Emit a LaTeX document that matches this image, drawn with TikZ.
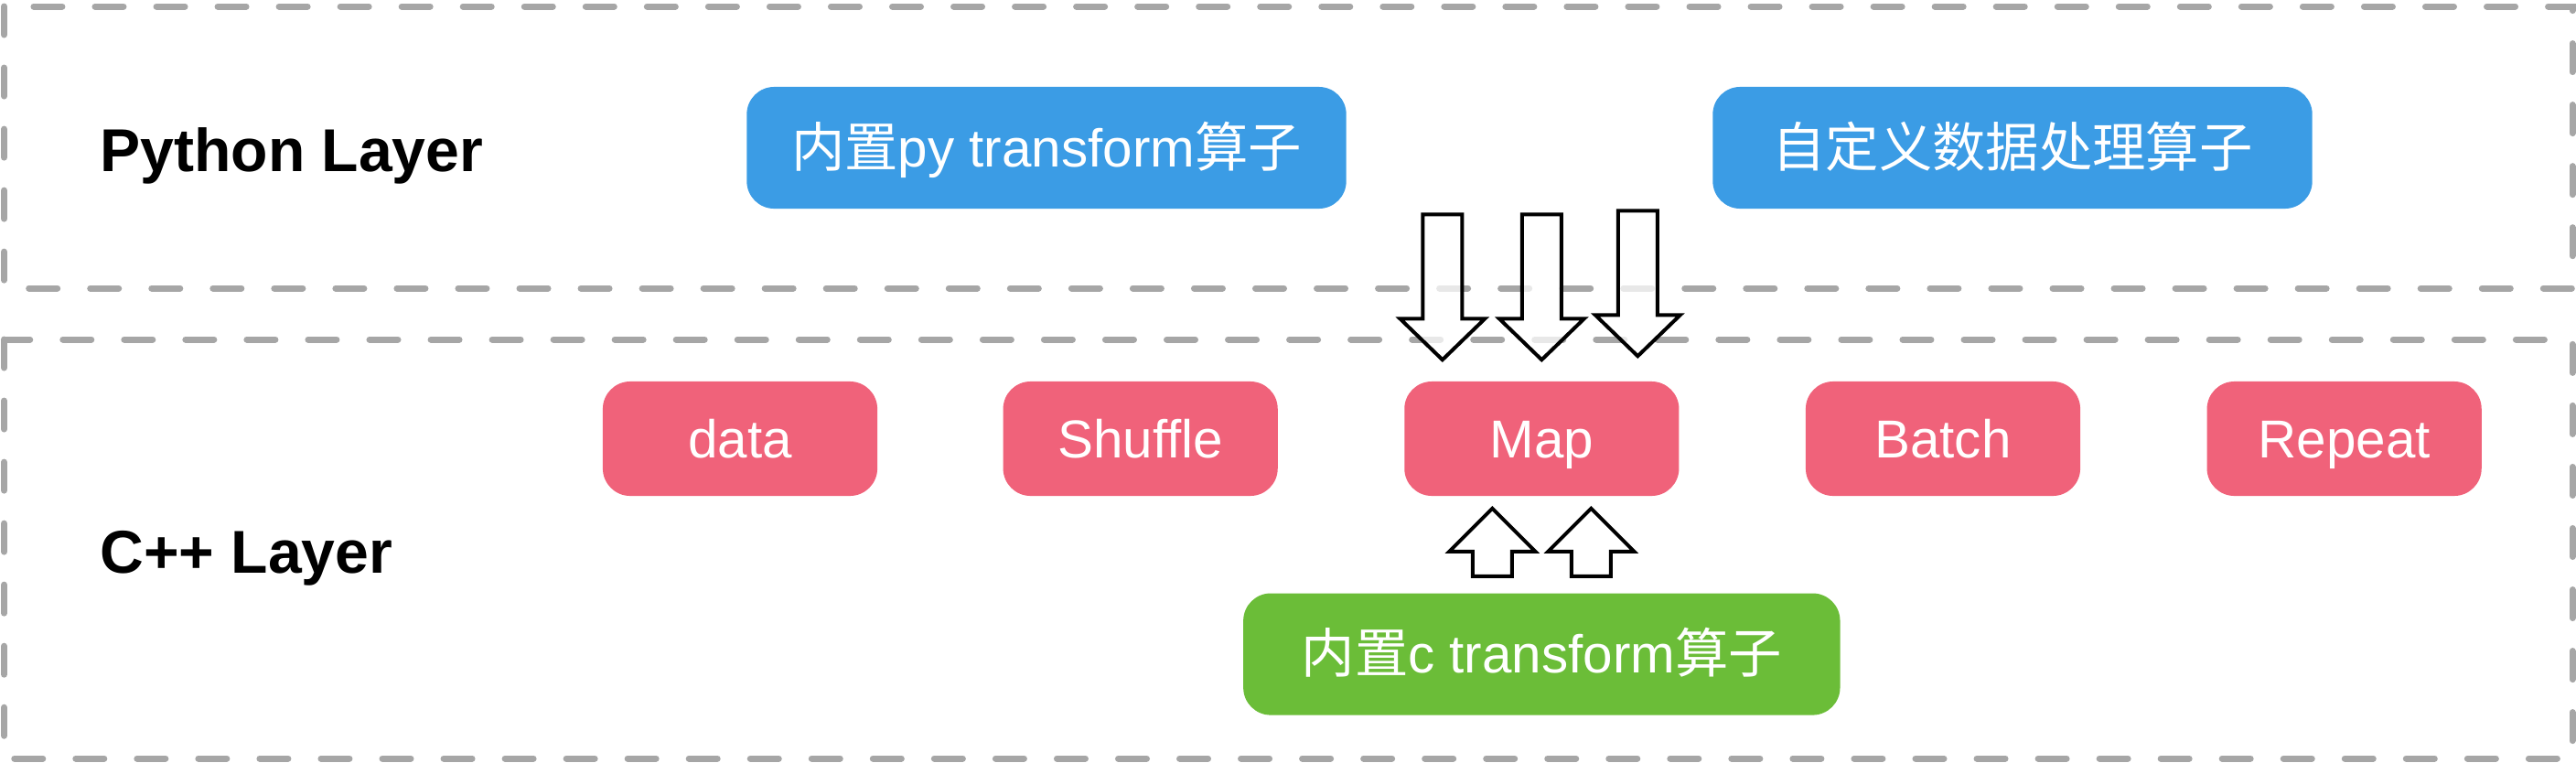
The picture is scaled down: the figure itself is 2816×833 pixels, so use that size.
\documentclass[tikz,border=0pt]{standalone}
\usepackage{fontspec}
\setmainfont{Liberation Sans}
\newfontfamily\cjk{Noto Sans CJK SC}
\usetikzlibrary{positioning,calc}

\definecolor{PyBlue}{RGB}{59,156,229}
\definecolor{OpRed}{RGB}{240,98,122}
\definecolor{COpGreen}{RGB}{107,189,56}

\begin{document}
\begin{tikzpicture}
[
x=0.01cm, y=-0.01cm,
LayerBorder/.style={draw=black!35, line width=0.07cm, line cap=round, dash pattern=on 0.31cm off 0.36cm},
LayerLabel/.style={anchor=base west, font=\fontsize{18.8pt}{22pt}\selectfont\bfseries},
OpBox/.style={rectangle, rounded corners=0.3cm, text=white, inner sep=0pt, text height=15.2pt, text depth=3.3pt, font=\fontsize{16.6pt}{19pt}\selectfont},
PyOp/.style={OpBox, fill=PyBlue, minimum width=6.55cm, minimum height=1.33cm},
CppOp/.style={OpBox, fill=OpRed, minimum width=3cm, minimum height=1.25cm},
COp/.style={OpBox, fill=COpGreen, minimum width=6.52cm, minimum height=1.33cm},
BlockArrow/.style={draw=black, line width=0.04cm, fill=white, fill opacity=0.75},
DownArrow/.pic={\draw[BlockArrow] (-21.5,0)--(21.5,0)--(21.5,114)--(46.5,114)--(0,159)--(-46.5,114)--(-21.5,114)--cycle;},
UpArrow/.pic={\draw[BlockArrow] (0,0)--(47,47)--(21.5,47)--(21.5,74)--(-21.5,74)--(-21.5,47)--(-47,47)--cycle;},
]

\useasboundingbox (0,0) rectangle (2816,833);

% layers
\draw[LayerBorder] (4.5,7) rectangle (2812,315);
\draw[LayerBorder] (4.5,371) rectangle (2812,829);

\node[LayerLabel] (pylabel) at (97,187) {Python Layer};
\node[LayerLabel] (cpplabel) at (97,626) {C++ Layer};

% python ops
\node[PyOp] (pytrans) at (1144,161.5) {{\cjk 内置}py transform{\cjk 算子}};
\node[PyOp] (userop) at (2200,161.5) {\cjk 自定义数据处理算子};

% c++ pipeline
\node[CppOp] (data) at (809,479.5) {data};
\node[CppOp, right=1.36cm of data] (shuffle) {Shuffle};
\node[CppOp, right=1.37cm of shuffle] (map) {Map};
\node[CppOp, right=1.37cm of map] (batch) {Batch};
\node[CppOp, right=1.37cm of batch] (repeat) {Repeat};

\node[COp, below=1.05cm of map] (ctrans) {{\cjk 内置}c transform{\cjk 算子}};

% arrows into Map
\pic at ($(map.north)+(-108.5,-182)$) {DownArrow};
\pic at ($(map.north)+(0,-182)$) {DownArrow};
\pic at ($(map.north)+(105,-186)$) {DownArrow};
\pic at ($(map.south)+(-54,13)$) {UpArrow};
\pic at ($(map.south)+(54,13)$) {UpArrow};

\end{tikzpicture}
\end{document}
